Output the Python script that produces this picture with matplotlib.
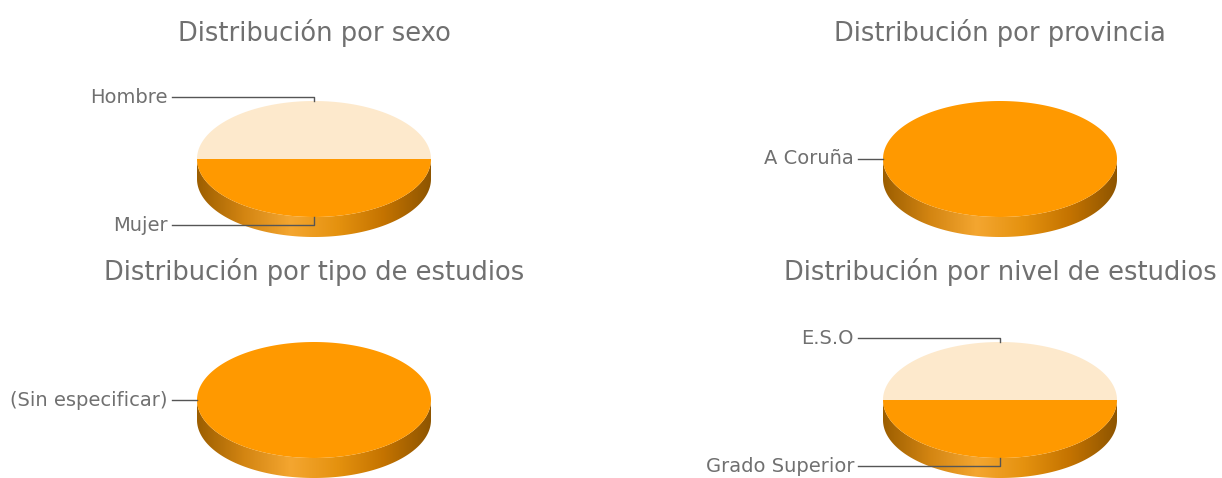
import numpy as np
import matplotlib.pyplot as plt
from matplotlib.patches import Polygon
from matplotlib.colors import LinearSegmentedColormap

plt.rcParams['font.family'] = ['DejaVu Sans']

# one pie per panel
titles = ["Distribución por sexo", "Distribución por provincia",
          "Distribución por tipo de estudios", "Distribución por nivel de estudios"]
sexo_labels = ["Hombre", "Mujer"]
sexo_values = [50, 50]
provincia_labels = ["A Coruña"]
provincia_values = [100]
tipo_labels = ["(Sin especificar)"]
tipo_values = [100]
nivel_labels = ["E.S.O", "Grado Superior"]
nivel_values = [50, 50]

panels = [
    (sexo_labels, sexo_values),
    (provincia_labels, provincia_values),
    (tipo_labels, tipo_values),
    (nivel_labels, nivel_values),
]

W, H = 1222, 478
fig = plt.figure(figsize=(W / 100, H / 100), dpi=100)
ax = fig.add_axes([0, 0, 1, 1])
ax.set_xlim(0, W)
ax.set_ylim(H, 0)
ax.axis('off')

centers = [(314, 159), (1000, 159), (314, 400), (1000, 400)]
title_y = [33, 33, 272, 272]
RX, RY, DEPTH = 117, 58, 20
slice_colors = ["#fde9cc", "#ff9900"]
side_cmap = LinearSegmentedColormap.from_list(
    "side", ["#9c5e00", "#d38512", "#f4a630", "#e5920f", "#c47300", "#8e5500"])
text_color = "#707070"
line_color = "#555555"


def ellipse_pts(cx, cy, a0, a1, n=200):
    t = np.radians(np.linspace(a0, a1, n))
    return cx + RX * np.cos(t), cy - RY * np.sin(t)


for (labels, values), (cx, cy), ty, title in zip(panels, centers, title_y, titles):
    ax.text(cx, ty, title, ha='center', va='center', fontsize=18.5, color=text_color)

    # front side of the disc, shaded with a horizontal gradient
    sx, sy = ellipse_pts(cx, cy, 180, 360)
    side = np.concatenate([np.column_stack([sx, sy]),
                           np.column_stack([sx[::-1], sy[::-1] + DEPTH])])
    side_patch = Polygon(side, closed=True, facecolor='none', edgecolor='none')
    ax.add_patch(side_patch)
    grad = np.linspace(0, 1, 256).reshape(1, -1)
    img = ax.imshow(grad, cmap=side_cmap, aspect='auto',
                    extent=(cx - RX, cx + RX, cy + RY + DEPTH, cy - 2), zorder=1)
    img.set_clip_path(side_patch)

    total = float(sum(values))
    start = 0.0
    for i, (lab, v) in enumerate(zip(labels, values)):
        span = 360.0 * v / total
        a0, a1 = start, start + span
        if span >= 360:
            px, py = ellipse_pts(cx, cy, 0, 360)
            color = slice_colors[1]
        else:
            ex, ey = ellipse_pts(cx, cy, a0, a1)
            px = np.concatenate([[cx], ex])
            py = np.concatenate([[cy], ey])
            color = slice_colors[i % 2]
        ax.add_patch(Polygon(np.column_stack([px, py]), closed=True,
                             facecolor=color, edgecolor='none', zorder=2))

        # leader line from slice midpoint to the label on the left
        mid = np.radians((a0 + a1) / 2) if span < 360 else np.pi
        mx, my = cx + RX * np.cos(mid), cy - RY * np.sin(mid)
        lx = cx - 142
        if span >= 360:
            ax.plot([lx, mx], [my, my], color=line_color, lw=1, zorder=3)
            ly = my
        else:
            ly = my - 4 if np.sin(mid) > 0 else my + 8
            ax.plot([lx, mx, mx], [ly, ly, my], color=line_color, lw=1, zorder=3)
        ax.text(lx - 4, ly, lab, ha='right', va='center', fontsize=14, color=text_color)
        start = a1

fig.savefig("out.png", dpi=100)
